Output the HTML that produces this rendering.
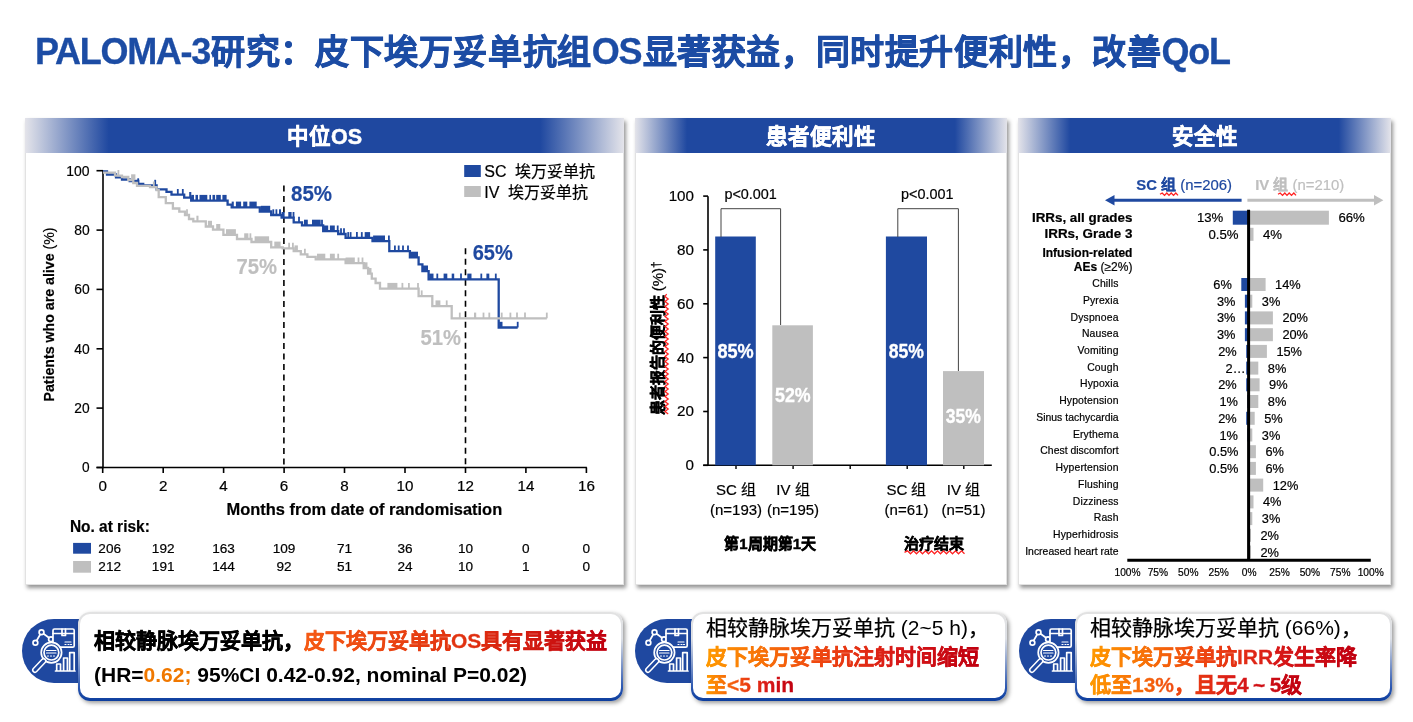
<!DOCTYPE html>
<html lang="zh-CN"><head><meta charset="utf-8">
<style>
*{margin:0;padding:0;box-sizing:border-box}
html,body{width:1413px;height:722px;overflow:hidden;background:#fff}
body{position:relative;font-family:"Liberation Sans",sans-serif;color:#000}
.a{position:absolute;white-space:nowrap}
.title{left:35px;top:32px;font-size:34px;line-height:40px;font-weight:bold;color:#1c4ca4}
.panel{position:absolute;top:118px;height:467px;background:#fff;border:1px solid #e2e2e2;border-top:0;box-shadow:2px 3px 4px rgba(0,0,0,.42)}
.ph{-webkit-text-stroke:0.5px #fff;position:absolute;left:-1px;top:0;right:-1px;height:35px;color:#fff;font-weight:bold;font-size:21.5px;line-height:39px;text-align:center;background:linear-gradient(90deg,#e4e4ea 0,#1f48a0 14%,#1f48a0 86%,#e4e4ea 100%)}
.callbox{position:absolute;top:612px;height:89px;padding:2px 2px 3px 2px;background:linear-gradient(180deg,#e2e2e2 0%,#dde0e6 30%,#2a56b0 85%,#0d3e9e 100%);border-radius:12px;box-shadow:2px 2px 4px rgba(0,0,0,.4)}
.callbox>div{width:100%;height:100%;background:#fff;border-radius:10px}
.pill{position:absolute;top:619px;height:64px;width:70px;background:#1f48a0;border-radius:32px 0 0 32px}
.ct{position:absolute;font-size:21px;line-height:28.5px;white-space:nowrap}
.b{font-weight:bold}
.k{-webkit-text-stroke:0.5px currentColor}
.kr{-webkit-text-stroke:0.25px currentColor}
.kt{-webkit-text-stroke:0.8px currentColor;letter-spacing:0.6px}
.tl{font-size:36px;letter-spacing:-1.3px;margin-right:1.3px;-webkit-text-stroke:0.3px currentColor}
.gr{-webkit-background-clip:text;background-clip:text;color:transparent;-webkit-text-stroke:0.3px transparent}
svg text{font-family:"Liberation Sans",sans-serif}
</style></head><body>
<div id="wrap" style="position:absolute;left:0;top:0;width:1413px;height:722px;background:#fff;will-change:transform">
<div class="a title"><span class="tl">PALOMA-3</span><span class="kt">研究：皮下埃万妥单抗组</span><span class="tl">OS</span><span class="kt">显著获益，同时提升便利性，改善</span><span class="tl">QoL</span></div>

<div class="panel" style="left:25px;width:599px"><div class="ph"><span class="k">中位</span>OS</div></div>
<div class="panel" style="left:635px;width:372px"><div class="ph"><span class="k">患者便利性</span></div></div>
<div class="panel" style="left:1018px;width:373px"><div class="ph"><span class="k">安全性</span></div></div>

<svg width="1413" height="722" style="position:absolute;left:0;top:0">
<line x1="103" y1="170.7" x2="103" y2="468.3" stroke="#000" stroke-width="1.6" />
<line x1="96.5" y1="467.5" x2="586.9" y2="467.5" stroke="#000" stroke-width="1.6" />
<line x1="96.5" y1="467.5" x2="103" y2="467.5" stroke="#000" stroke-width="1.6" />
<text x="89.6" y="472.4" font-size="15.2" text-anchor="end" font-weight="normal" fill="#000" textLength="7.6" lengthAdjust="spacingAndGlyphs" stroke="#000" stroke-width="0.2">0</text>
<line x1="96.5" y1="408.1" x2="103" y2="408.1" stroke="#000" stroke-width="1.6" />
<text x="89.6" y="413.0" font-size="15.2" text-anchor="end" font-weight="normal" fill="#000" textLength="15.3" lengthAdjust="spacingAndGlyphs" stroke="#000" stroke-width="0.2">20</text>
<line x1="96.5" y1="348.8" x2="103" y2="348.8" stroke="#000" stroke-width="1.6" />
<text x="89.6" y="353.7" font-size="15.2" text-anchor="end" font-weight="normal" fill="#000" textLength="15.4" lengthAdjust="spacingAndGlyphs" stroke="#000" stroke-width="0.2">40</text>
<line x1="96.5" y1="289.4" x2="103" y2="289.4" stroke="#000" stroke-width="1.6" />
<text x="89.6" y="294.29999999999995" font-size="15.2" text-anchor="end" font-weight="normal" fill="#000" textLength="15.4" lengthAdjust="spacingAndGlyphs" stroke="#000" stroke-width="0.2">60</text>
<line x1="96.5" y1="230.1" x2="103" y2="230.1" stroke="#000" stroke-width="1.6" />
<text x="89.6" y="235.0" font-size="15.2" text-anchor="end" font-weight="normal" fill="#000" textLength="15.4" lengthAdjust="spacingAndGlyphs" stroke="#000" stroke-width="0.2">80</text>
<line x1="96.5" y1="170.7" x2="103" y2="170.7" stroke="#000" stroke-width="1.6" />
<text x="89.6" y="175.6" font-size="15.2" text-anchor="end" font-weight="normal" fill="#000" textLength="23.3" lengthAdjust="spacingAndGlyphs" stroke="#000" stroke-width="0.2">100</text>
<line x1="102.7" y1="467.5" x2="102.7" y2="473" stroke="#000" stroke-width="1.6" />
<text x="102.7" y="490.6" font-size="15.2" text-anchor="middle" font-weight="normal" fill="#000"  stroke="#000" stroke-width="0.2">0</text>
<line x1="163.2" y1="467.5" x2="163.2" y2="473" stroke="#000" stroke-width="1.6" />
<text x="163.2" y="490.6" font-size="15.2" text-anchor="middle" font-weight="normal" fill="#000"  stroke="#000" stroke-width="0.2">2</text>
<line x1="223.6" y1="467.5" x2="223.6" y2="473" stroke="#000" stroke-width="1.6" />
<text x="223.6" y="490.6" font-size="15.2" text-anchor="middle" font-weight="normal" fill="#000"  stroke="#000" stroke-width="0.2">4</text>
<line x1="284.1" y1="467.5" x2="284.1" y2="473" stroke="#000" stroke-width="1.6" />
<text x="284.1" y="490.6" font-size="15.2" text-anchor="middle" font-weight="normal" fill="#000"  stroke="#000" stroke-width="0.2">6</text>
<line x1="344.5" y1="467.5" x2="344.5" y2="473" stroke="#000" stroke-width="1.6" />
<text x="344.5" y="490.6" font-size="15.2" text-anchor="middle" font-weight="normal" fill="#000"  stroke="#000" stroke-width="0.2">8</text>
<line x1="405.0" y1="467.5" x2="405.0" y2="473" stroke="#000" stroke-width="1.6" />
<text x="405.0" y="490.6" font-size="15.2" text-anchor="middle" font-weight="normal" fill="#000"  stroke="#000" stroke-width="0.2">10</text>
<line x1="465.5" y1="467.5" x2="465.5" y2="473" stroke="#000" stroke-width="1.6" />
<text x="465.5" y="490.6" font-size="15.2" text-anchor="middle" font-weight="normal" fill="#000"  stroke="#000" stroke-width="0.2">12</text>
<line x1="525.9" y1="467.5" x2="525.9" y2="473" stroke="#000" stroke-width="1.6" />
<text x="525.9" y="490.6" font-size="15.2" text-anchor="middle" font-weight="normal" fill="#000"  stroke="#000" stroke-width="0.2">14</text>
<line x1="586.4" y1="467.5" x2="586.4" y2="473" stroke="#000" stroke-width="1.6" />
<text x="586.4" y="490.6" font-size="15.2" text-anchor="middle" font-weight="normal" fill="#000"  stroke="#000" stroke-width="0.2">16</text>
<line x1="283.9" y1="185.5" x2="283.9" y2="467.5" stroke="#000" stroke-width="1.6" stroke-dasharray="6,4.5"/>
<line x1="465.5" y1="248.3" x2="465.5" y2="467.5" stroke="#000" stroke-width="1.6" stroke-dasharray="6,4.5"/>
<path d="M103,171.5H107V174.5H116V177.3H122V179.5H129.7V181H138.2V184H143.2V185.5H156.6V189.4H166.5V191.9H171.5V194.7H184.2V197.7H191.2V200.6H227.6V204.7H231.7V207.3H259.8V211.5H271.2V215H281.6V217.7H293.7V222.4H302V225.4H323.2V231.2H338.2V234H345.6V237.8H372.5V241.2H389.3V251.2H409.9V257.4H418.6V264.3H422.4V271.2H428.6V279.3H498.7V327.5H517.7" fill="none" stroke="#1f49a0" stroke-width="2.3"/>
<line x1="138.2" y1="184" x2="138.2" y2="178.3" stroke="#1f49a0" stroke-width="1.8" />
<line x1="155.2" y1="185.5" x2="155.2" y2="179.8" stroke="#1f49a0" stroke-width="1.8" />
<line x1="177.8" y1="194.7" x2="177.8" y2="189.0" stroke="#1f49a0" stroke-width="1.8" />
<line x1="182.8" y1="194.7" x2="182.8" y2="189.0" stroke="#1f49a0" stroke-width="1.8" />
<rect x="189.2" y="192.0" width="2.1" height="5.7" fill="#1f49a0"/>
<rect x="191.2" y="194.9" width="2.8" height="5.7" fill="#1f49a0"/>
<rect x="195.5" y="194.9" width="2.5" height="5.7" fill="#1f49a0"/>
<rect x="199.5" y="194.9" width="7.8" height="5.7" fill="#1f49a0"/>
<rect x="209.4" y="194.9" width="1.6" height="5.7" fill="#1f49a0"/>
<rect x="212.5" y="194.9" width="2.6" height="5.7" fill="#1f49a0"/>
<rect x="216.2" y="194.9" width="4.6" height="5.7" fill="#1f49a0"/>
<rect x="222.4" y="194.9" width="4.2" height="5.7" fill="#1f49a0"/>
<rect x="231.7" y="201.6" width="2.1" height="5.7" fill="#1f49a0"/>
<rect x="235.9" y="201.6" width="5.2" height="5.7" fill="#1f49a0"/>
<rect x="243.2" y="201.6" width="4.1" height="5.7" fill="#1f49a0"/>
<rect x="249.4" y="201.6" width="7.3" height="5.7" fill="#1f49a0"/>
<rect x="260.8" y="205.8" width="9.4" height="5.7" fill="#1f49a0"/>
<line x1="273.3" y1="215" x2="273.3" y2="209.3" stroke="#1f49a0" stroke-width="1.8" />
<line x1="276.4" y1="215" x2="276.4" y2="209.3" stroke="#1f49a0" stroke-width="1.8" />
<rect x="279" y="209.3" width="2" height="5.7" fill="#1f49a0"/>
<rect x="281.6" y="212.0" width="3.0" height="5.7" fill="#1f49a0"/>
<rect x="288.3" y="212.0" width="3.3" height="5.7" fill="#1f49a0"/>
<line x1="293.5" y1="217.7" x2="293.5" y2="212.0" stroke="#1f49a0" stroke-width="1.8" />
<line x1="299" y1="222.4" x2="299" y2="216.7" stroke="#1f49a0" stroke-width="1.8" />
<rect x="304" y="219.7" width="3.8" height="5.7" fill="#1f49a0"/>
<rect x="312" y="219.7" width="8.7" height="5.7" fill="#1f49a0"/>
<line x1="322" y1="225.4" x2="322" y2="219.7" stroke="#1f49a0" stroke-width="1.8" />
<rect x="324" y="225.5" width="4.2" height="5.7" fill="#1f49a0"/>
<rect x="329.9" y="225.5" width="4.9" height="5.7" fill="#1f49a0"/>
<line x1="337.7" y1="231.2" x2="337.7" y2="225.5" stroke="#1f49a0" stroke-width="1.8" />
<line x1="341" y1="234" x2="341" y2="228.3" stroke="#1f49a0" stroke-width="1.8" />
<line x1="344" y1="234" x2="344" y2="228.3" stroke="#1f49a0" stroke-width="1.8" />
<rect x="347.3" y="232.1" width="1.7" height="5.7" fill="#1f49a0"/>
<line x1="350.6" y1="237.8" x2="350.6" y2="232.1" stroke="#1f49a0" stroke-width="1.8" />
<line x1="356.9" y1="237.8" x2="356.9" y2="232.1" stroke="#1f49a0" stroke-width="1.8" />
<line x1="361.8" y1="237.8" x2="361.8" y2="232.1" stroke="#1f49a0" stroke-width="1.8" />
<rect x="364.7" y="232.1" width="5.4" height="5.7" fill="#1f49a0"/>
<rect x="373.1" y="235.5" width="11.9" height="5.7" fill="#1f49a0"/>
<line x1="388.9" y1="241.2" x2="388.9" y2="235.5" stroke="#1f49a0" stroke-width="1.8" />
<line x1="394.9" y1="251.2" x2="394.9" y2="245.5" stroke="#1f49a0" stroke-width="1.8" />
<line x1="398.7" y1="251.2" x2="398.7" y2="245.5" stroke="#1f49a0" stroke-width="1.8" />
<line x1="403" y1="251.2" x2="403" y2="245.5" stroke="#1f49a0" stroke-width="1.8" />
<line x1="408" y1="251.2" x2="408" y2="245.5" stroke="#1f49a0" stroke-width="1.8" />
<rect x="409.9" y="251.7" width="8.1" height="5.7" fill="#1f49a0"/>
<rect x="422.6" y="265.5" width="5.4" height="5.7" fill="#1f49a0"/>
<rect x="429.2" y="273.6" width="4.3" height="5.7" fill="#1f49a0"/>
<line x1="437.3" y1="279.3" x2="437.3" y2="273.6" stroke="#1f49a0" stroke-width="1.8" />
<rect x="443.6" y="273.6" width="3.7" height="5.7" fill="#1f49a0"/>
<rect x="451.7" y="273.6" width="2.5" height="5.7" fill="#1f49a0"/>
<line x1="461" y1="279.3" x2="461" y2="273.6" stroke="#1f49a0" stroke-width="1.8" />
<rect x="467.3" y="273.6" width="4.2" height="5.7" fill="#1f49a0"/>
<line x1="481.3" y1="279.3" x2="481.3" y2="273.6" stroke="#1f49a0" stroke-width="1.8" />
<rect x="486.4" y="273.6" width="2.9" height="5.7" fill="#1f49a0"/>
<line x1="495.8" y1="279.3" x2="495.8" y2="273.6" stroke="#1f49a0" stroke-width="1.8" />
<rect x="499.2" y="321.8" width="3.3" height="5.7" fill="#1f49a0"/>
<line x1="517.7" y1="327.5" x2="517.7" y2="321.8" stroke="#1f49a0" stroke-width="1.8" />
<path d="M103,172.6H115V175.7H122V177H128.3V180H133.3V183H137V185.8H150V187.2H156.6V190H158.7V197.2H165.8V203.2H172.9V208.5H179.3V211.7H185V215H189V219H193.3V221.4H205.8V226.5H213V229.7H223.4V234.9H237V239H251.5V242H271.2V247.3H282.7V248.4H293.7V251.1H300.8V254.4H307.4V256.9H315.7V259.4H345.6V263.2H363.7V268H368.1V273.7H371.8V278.7H375.6V283H380V288.6H418.6V296.1H432.3V306.1H451.7V318.3H546.8" fill="none" stroke="#bfbfbf" stroke-width="2.3"/>
<line x1="118.4" y1="175.7" x2="118.4" y2="170.0" stroke="#bfbfbf" stroke-width="1.8" />
<rect x="131.1" y="174.3" width="4.3" height="5.7" fill="#bfbfbf"/>
<line x1="153.8" y1="187.2" x2="153.8" y2="181.5" stroke="#bfbfbf" stroke-width="1.8" />
<line x1="187" y1="215" x2="187" y2="209.3" stroke="#bfbfbf" stroke-width="1.8" />
<rect x="196.4" y="215.7" width="2.1" height="5.7" fill="#bfbfbf"/>
<rect x="207.9" y="220.8" width="4.1" height="5.7" fill="#bfbfbf"/>
<rect x="216.2" y="224.0" width="4.1" height="5.7" fill="#bfbfbf"/>
<rect x="226" y="229.2" width="9.9" height="5.7" fill="#bfbfbf"/>
<rect x="244.2" y="233.3" width="4.2" height="5.7" fill="#bfbfbf"/>
<line x1="250.4" y1="239" x2="250.4" y2="233.3" stroke="#bfbfbf" stroke-width="1.8" />
<rect x="254.6" y="236.3" width="14.5" height="5.7" fill="#bfbfbf"/>
<rect x="274.3" y="241.6" width="6.3" height="5.7" fill="#bfbfbf"/>
<line x1="289.1" y1="248.4" x2="289.1" y2="242.7" stroke="#bfbfbf" stroke-width="1.8" />
<line x1="292.9" y1="248.4" x2="292.9" y2="242.7" stroke="#bfbfbf" stroke-width="1.8" />
<rect x="294.5" y="245.4" width="3.4" height="5.7" fill="#bfbfbf"/>
<line x1="304.9" y1="254.4" x2="304.9" y2="248.7" stroke="#bfbfbf" stroke-width="1.8" />
<rect x="317" y="253.7" width="8.3" height="5.7" fill="#bfbfbf"/>
<rect x="329.9" y="253.7" width="4.9" height="5.7" fill="#bfbfbf"/>
<line x1="338.2" y1="259.4" x2="338.2" y2="253.7" stroke="#bfbfbf" stroke-width="1.8" />
<rect x="345.6" y="257.5" width="9.2" height="5.7" fill="#bfbfbf"/>
<line x1="358.5" y1="263.2" x2="358.5" y2="257.5" stroke="#bfbfbf" stroke-width="1.8" />
<line x1="362.5" y1="263.2" x2="362.5" y2="257.5" stroke="#bfbfbf" stroke-width="1.8" />
<rect x="363.9" y="262.3" width="3.6" height="5.7" fill="#bfbfbf"/>
<rect x="368.5" y="268.0" width="3.0" height="5.7" fill="#bfbfbf"/>
<rect x="387.4" y="282.9" width="10.0" height="5.7" fill="#bfbfbf"/>
<line x1="402.4" y1="288.6" x2="402.4" y2="282.9" stroke="#bfbfbf" stroke-width="1.8" />
<line x1="408.9" y1="288.6" x2="408.9" y2="282.9" stroke="#bfbfbf" stroke-width="1.8" />
<line x1="418" y1="288.6" x2="418" y2="282.9" stroke="#bfbfbf" stroke-width="1.8" />
<line x1="421.7" y1="296.1" x2="421.7" y2="290.4" stroke="#bfbfbf" stroke-width="1.8" />
<rect x="435.5" y="300.4" width="4.9" height="5.7" fill="#bfbfbf"/>
<line x1="446.7" y1="306.1" x2="446.7" y2="300.4" stroke="#bfbfbf" stroke-width="1.8" />
<line x1="459.8" y1="318.3" x2="459.8" y2="312.6" stroke="#bfbfbf" stroke-width="1.8" />
<rect x="474" y="312.6" width="2.2" height="5.7" fill="#bfbfbf"/>
<line x1="483.5" y1="318.3" x2="483.5" y2="312.6" stroke="#bfbfbf" stroke-width="1.8" />
<line x1="489.3" y1="318.3" x2="489.3" y2="312.6" stroke="#bfbfbf" stroke-width="1.8" />
<line x1="501.7" y1="318.3" x2="501.7" y2="312.6" stroke="#bfbfbf" stroke-width="1.8" />
<line x1="510.4" y1="318.3" x2="510.4" y2="312.6" stroke="#bfbfbf" stroke-width="1.8" />
<line x1="517" y1="318.3" x2="517" y2="312.6" stroke="#bfbfbf" stroke-width="1.8" />
<line x1="525" y1="318.3" x2="525" y2="312.6" stroke="#bfbfbf" stroke-width="1.8" />
<line x1="546.8" y1="318.3" x2="546.8" y2="312.6" stroke="#bfbfbf" stroke-width="1.8" />
<text x="291" y="200.6" font-size="22.6" text-anchor="start" font-weight="bold" fill="#1f49a0" textLength="41" lengthAdjust="spacingAndGlyphs" stroke="#1f49a0" stroke-width="0.2">85%</text>
<text x="472.7" y="259.5" font-size="22.6" text-anchor="start" font-weight="bold" fill="#1f49a0" textLength="40" lengthAdjust="spacingAndGlyphs" stroke="#1f49a0" stroke-width="0.2">65%</text>
<text x="236.6" y="274" font-size="22.6" text-anchor="start" font-weight="bold" fill="#bfbfbf" textLength="40.5" lengthAdjust="spacingAndGlyphs" stroke="#bfbfbf" stroke-width="0.2">75%</text>
<text x="420.5" y="345" font-size="22.6" text-anchor="start" font-weight="bold" fill="#bfbfbf" textLength="40.5" lengthAdjust="spacingAndGlyphs" stroke="#bfbfbf" stroke-width="0.2">51%</text>
<rect x="464.2" y="165" width="16.6" height="12" fill="#1f49a0"/>
<rect x="464.2" y="186" width="16.6" height="11" fill="#bfbfbf"/>
<text x="484.3" y="177.2" font-size="16" text-anchor="start" font-weight="normal" fill="#000"  stroke="#000" stroke-width="0.2">SC  埃万妥单抗</text>
<text x="484.3" y="197.6" font-size="16" text-anchor="start" font-weight="normal" fill="#000"  stroke="#000" stroke-width="0.2">IV  埃万妥单抗</text>
<text x="226.6" y="515.1" font-size="16.6" text-anchor="start" font-weight="bold" fill="#000" textLength="275.6" lengthAdjust="spacingAndGlyphs" stroke="#000" stroke-width="0.2">Months from date of randomisation</text>
<text transform="translate(53.6,314.5) rotate(-90)" font-size="15" text-anchor="middle" stroke="#000" stroke-width="0.2" textLength="174" lengthAdjust="spacingAndGlyphs"><tspan font-weight="bold">Patients who are alive </tspan>(%)</text>
<text x="69.9" y="532.3" font-size="16.2" text-anchor="start" font-weight="bold" fill="#000" textLength="79.9" lengthAdjust="spacingAndGlyphs" stroke="#000" stroke-width="0.2">No. at risk:</text>
<rect x="73.1" y="542.9" width="17.9" height="10.8" fill="#1f49a0"/>
<rect x="73.1" y="561" width="17.9" height="11.7" fill="#bfbfbf"/>
<text x="109.7" y="552.7" font-size="13.6" text-anchor="middle" font-weight="normal" fill="#000"  stroke="#000" stroke-width="0.2">206</text>
<text x="109.7" y="570.7" font-size="13.6" text-anchor="middle" font-weight="normal" fill="#000"  stroke="#000" stroke-width="0.2">212</text>
<text x="163.2" y="552.7" font-size="13.6" text-anchor="middle" font-weight="normal" fill="#000"  stroke="#000" stroke-width="0.2">192</text>
<text x="163.2" y="570.7" font-size="13.6" text-anchor="middle" font-weight="normal" fill="#000"  stroke="#000" stroke-width="0.2">191</text>
<text x="223.6" y="552.7" font-size="13.6" text-anchor="middle" font-weight="normal" fill="#000"  stroke="#000" stroke-width="0.2">163</text>
<text x="223.6" y="570.7" font-size="13.6" text-anchor="middle" font-weight="normal" fill="#000"  stroke="#000" stroke-width="0.2">144</text>
<text x="284.1" y="552.7" font-size="13.6" text-anchor="middle" font-weight="normal" fill="#000"  stroke="#000" stroke-width="0.2">109</text>
<text x="284.1" y="570.7" font-size="13.6" text-anchor="middle" font-weight="normal" fill="#000"  stroke="#000" stroke-width="0.2">92</text>
<text x="344.5" y="552.7" font-size="13.6" text-anchor="middle" font-weight="normal" fill="#000"  stroke="#000" stroke-width="0.2">71</text>
<text x="344.5" y="570.7" font-size="13.6" text-anchor="middle" font-weight="normal" fill="#000"  stroke="#000" stroke-width="0.2">51</text>
<text x="405.0" y="552.7" font-size="13.6" text-anchor="middle" font-weight="normal" fill="#000"  stroke="#000" stroke-width="0.2">36</text>
<text x="405.0" y="570.7" font-size="13.6" text-anchor="middle" font-weight="normal" fill="#000"  stroke="#000" stroke-width="0.2">24</text>
<text x="465.5" y="552.7" font-size="13.6" text-anchor="middle" font-weight="normal" fill="#000"  stroke="#000" stroke-width="0.2">10</text>
<text x="465.5" y="570.7" font-size="13.6" text-anchor="middle" font-weight="normal" fill="#000"  stroke="#000" stroke-width="0.2">10</text>
<text x="525.9" y="552.7" font-size="13.6" text-anchor="middle" font-weight="normal" fill="#000"  stroke="#000" stroke-width="0.2">0</text>
<text x="525.9" y="570.7" font-size="13.6" text-anchor="middle" font-weight="normal" fill="#000"  stroke="#000" stroke-width="0.2">1</text>
<text x="586.4" y="552.7" font-size="13.6" text-anchor="middle" font-weight="normal" fill="#000"  stroke="#000" stroke-width="0.2">0</text>
<text x="586.4" y="570.7" font-size="13.6" text-anchor="middle" font-weight="normal" fill="#000"  stroke="#000" stroke-width="0.2">0</text>
<line x1="708" y1="196.3" x2="708" y2="466" stroke="#000" stroke-width="1.6" />
<line x1="703.2" y1="465.3" x2="991.8" y2="465.3" stroke="#000" stroke-width="1.6" />
<line x1="703.2" y1="465.3" x2="708" y2="465.3" stroke="#000" stroke-width="1.6" />
<text x="694" y="470.2" font-size="15.2" text-anchor="end" font-weight="normal" fill="#000"  stroke="#000" stroke-width="0.2">0</text>
<line x1="703.2" y1="411.5" x2="708" y2="411.5" stroke="#000" stroke-width="1.6" />
<text x="694" y="416.4" font-size="15.2" text-anchor="end" font-weight="normal" fill="#000"  stroke="#000" stroke-width="0.2">20</text>
<line x1="703.2" y1="357.6" x2="708" y2="357.6" stroke="#000" stroke-width="1.6" />
<text x="694" y="362.5" font-size="15.2" text-anchor="end" font-weight="normal" fill="#000"  stroke="#000" stroke-width="0.2">40</text>
<line x1="703.2" y1="303.8" x2="708" y2="303.8" stroke="#000" stroke-width="1.6" />
<text x="694" y="308.7" font-size="15.2" text-anchor="end" font-weight="normal" fill="#000"  stroke="#000" stroke-width="0.2">60</text>
<line x1="703.2" y1="249.9" x2="708" y2="249.9" stroke="#000" stroke-width="1.6" />
<text x="694" y="254.8" font-size="15.2" text-anchor="end" font-weight="normal" fill="#000"  stroke="#000" stroke-width="0.2">80</text>
<line x1="703.2" y1="196.1" x2="708" y2="196.1" stroke="#000" stroke-width="1.6" />
<text x="694" y="201.0" font-size="15.2" text-anchor="end" font-weight="normal" fill="#000"  stroke="#000" stroke-width="0.2">100</text>
<line x1="736" y1="465.3" x2="736" y2="469" stroke="#000" stroke-width="1.4" />
<line x1="793.1" y1="465.3" x2="793.1" y2="469" stroke="#000" stroke-width="1.4" />
<line x1="850.2" y1="465.3" x2="850.2" y2="469" stroke="#000" stroke-width="1.4" />
<line x1="907.2" y1="465.3" x2="907.2" y2="469" stroke="#000" stroke-width="1.4" />
<line x1="963.8" y1="465.3" x2="963.8" y2="469" stroke="#000" stroke-width="1.4" />
<rect x="715.2" y="236.5" width="40.6" height="228.8" fill="#1f49a0"/>
<rect x="772.3" y="325.3" width="40.6" height="140.0" fill="#bfbfbf"/>
<rect x="885.9" y="236.5" width="41.1" height="228.8" fill="#1f49a0"/>
<rect x="943" y="371.1" width="41" height="94.2" fill="#bfbfbf"/>
<path d="M721,237 V208.7 H780.6 V325" fill="none" stroke="#444" stroke-width="1"/>
<path d="M897.8,237 V208.7 H958.4 V371" fill="none" stroke="#444" stroke-width="1"/>
<text x="750.6" y="198.8" font-size="14.4" text-anchor="middle" font-weight="normal" fill="#000"  stroke="#000" stroke-width="0.2">p&lt;0.001</text>
<text x="927.3" y="198.8" font-size="14.4" text-anchor="middle" font-weight="normal" fill="#000"  stroke="#000" stroke-width="0.2">p&lt;0.001</text>
<text x="735.6" y="357.5" font-size="19.6" text-anchor="middle" font-weight="bold" fill="#fff" stroke="#fff" stroke-width="0.35" textLength="36.3" lengthAdjust="spacingAndGlyphs">85%</text>
<text x="906.4" y="357.5" font-size="19.6" text-anchor="middle" font-weight="bold" fill="#fff" stroke="#fff" stroke-width="0.35" textLength="35.2" lengthAdjust="spacingAndGlyphs">85%</text>
<text x="792.8" y="402.2" font-size="19.6" text-anchor="middle" font-weight="bold" fill="#fff" stroke="#fff" stroke-width="0.35" textLength="35.6" lengthAdjust="spacingAndGlyphs">52%</text>
<text x="963.3" y="422.6" font-size="19.6" text-anchor="middle" font-weight="bold" fill="#fff" stroke="#fff" stroke-width="0.35" textLength="35" lengthAdjust="spacingAndGlyphs">35%</text>
<text x="736" y="495.1" font-size="15" text-anchor="middle" font-weight="normal" fill="#000"  stroke="#000" stroke-width="0.2">SC 组</text>
<text x="736" y="515" font-size="15" text-anchor="middle" font-weight="normal" fill="#000"  stroke="#000" stroke-width="0.2">(n=193)</text>
<text x="793" y="495.1" font-size="15" text-anchor="middle" font-weight="normal" fill="#000"  stroke="#000" stroke-width="0.2">IV 组</text>
<text x="793" y="515" font-size="15" text-anchor="middle" font-weight="normal" fill="#000"  stroke="#000" stroke-width="0.2">(n=195)</text>
<text x="906.5" y="495.1" font-size="15" text-anchor="middle" font-weight="normal" fill="#000"  stroke="#000" stroke-width="0.2">SC 组</text>
<text x="906.5" y="515" font-size="15" text-anchor="middle" font-weight="normal" fill="#000"  stroke="#000" stroke-width="0.2">(n=61)</text>
<text x="963.5" y="495.1" font-size="15" text-anchor="middle" font-weight="normal" fill="#000"  stroke="#000" stroke-width="0.2">IV 组</text>
<text x="963.5" y="515" font-size="15" text-anchor="middle" font-weight="normal" fill="#000"  stroke="#000" stroke-width="0.2">(n=51)</text>
<text x="770.2" y="548.5" font-size="15" text-anchor="middle" font-weight="bold" fill="#000" stroke="#000" stroke-width="0.45">第1周期第1天</text>
<text x="934.1" y="548.5" font-size="15" text-anchor="middle" font-weight="bold" fill="#000" stroke="#000" stroke-width="0.45">治疗结束</text>
<path d="M904.5,552.3 L907.5,550.8 L910.5,553.8 L913.5,550.8 L916.5,553.8 L919.5,550.8 L922.5,553.8 L925.5,550.8 L928.5,553.8 L931.5,550.8 L934.5,553.8 L937.5,550.8 L940.5,553.8 L943.5,550.8 L946.5,553.8 L949.5,550.8 L952.5,553.8 L955.5,550.8 L958.5,553.8 L961.5,550.8 L964.5,553.8" fill="none" stroke="#ff2020" stroke-width="1.3"/>
<text transform="translate(663.2,338.3) rotate(-90)" font-size="15" text-anchor="middle" stroke="#000" stroke-width="0.2"><tspan font-weight="bold" stroke="#000" stroke-width="0.45">患者报告的便利性</tspan> (%)<tspan font-size="12" dy="-3.5">†</tspan></text>
<path d="M666.6,294 L665.0,296.5 L668.2,299.0 L665.0,301.5 L668.2,304.0 L665.0,306.5 L668.2,309.0 L665.0,311.5 L668.2,314.0 L665.0,316.5 L668.2,319.0 L665.0,321.5 L668.2,324.0 L665.0,326.5 L668.2,329.0 L665.0,331.5 L668.2,334.0 L665.0,336.5 L668.2,339.0 L665.0,341.5 L668.2,344.0 L665.0,346.5 L668.2,349.0 L665.0,351.5 L668.2,354.0 L665.0,356.5 L668.2,359.0 L665.0,361.5 L668.2,364.0 L665.0,366.5 L668.2,369.0 L665.0,371.5 L668.2,374.0 L665.0,376.5 L668.2,379.0 L665.0,381.5 L668.2,384.0 L665.0,386.5 L668.2,389.0 L665.0,391.5 L668.2,394.0 L665.0,396.5 L668.2,399.0 L665.0,401.5 L668.2,404.0 L665.0,406.5 L668.2,409.0 L665.0,411.5 L668.2,414.0" fill="none" stroke="#ff2020" stroke-width="1.3"/>
<line x1="1112" y1="200.2" x2="1241.6" y2="200.2" stroke="#1f49a0" stroke-width="3" />
<path d="M1105,200.2 L1114.5,195 L1114.5,205.4 Z" fill="#1f49a0"/>
<line x1="1247.4" y1="200.2" x2="1375" y2="200.2" stroke="#bfbfbf" stroke-width="3" />
<path d="M1383.4,200.2 L1374,195 L1374,205.4 Z" fill="#bfbfbf"/>
<text x="1136.3" y="189.5" font-size="14.9" fill="#1f49a0" stroke="#1f49a0" stroke-width="0.2"><tspan font-weight="bold">SC 组</tspan> (n=206)</text>
<text x="1255.2" y="189.5" font-size="14.9" fill="#bfbfbf" stroke="#bfbfbf" stroke-width="0.2"><tspan font-weight="bold">IV 组</tspan> (n=210)</text>
<path d="M1160,194.2 L1162.2,193.0 L1164.5,195.4 L1166.8,193.0 L1169.0,195.4 L1171.2,193.0 L1173.5,195.4 L1175.8,193.0 L1178.0,195.4" fill="none" stroke="#ff2020" stroke-width="1.3"/>
<path d="M1278,194.2 L1280.2,193.0 L1282.5,195.4 L1284.8,193.0 L1287.0,195.4 L1289.2,193.0 L1291.5,195.4 L1293.8,193.0 L1296.0,195.4" fill="none" stroke="#ff2020" stroke-width="1.3"/>
<rect x="1232.8" y="210.7" width="15.8" height="14" fill="#1f49a0"/>
<rect x="1248.6" y="210.7" width="80.3" height="14" fill="#bfbfbf"/>
<text x="1223.3" y="222.2" font-size="13.2" text-anchor="end" font-weight="normal" fill="#000"  stroke="#000" stroke-width="0.2">13%</text>
<text x="1338.4" y="222.2" font-size="13.2" text-anchor="start" font-weight="normal" fill="#000"  stroke="#000" stroke-width="0.2">66%</text>
<rect x="1248.0" y="227.8" width="0.6" height="13" fill="#1f49a0"/>
<rect x="1248.6" y="227.8" width="4.9" height="13" fill="#bfbfbf"/>
<text x="1238.5" y="238.8" font-size="13.2" text-anchor="end" font-weight="normal" fill="#000"  stroke="#000" stroke-width="0.2">0.5%</text>
<text x="1263.0" y="238.8" font-size="13.2" text-anchor="start" font-weight="normal" fill="#000"  stroke="#000" stroke-width="0.2">4%</text>
<text x="1132.4" y="221.9" font-size="13.4" text-anchor="end" font-weight="bold" fill="#000"  stroke="#000" stroke-width="0.2">IRRs, all grades</text>
<text x="1132.4" y="237.9" font-size="13.4" text-anchor="end" font-weight="bold" fill="#000"  stroke="#000" stroke-width="0.2">IRRs, Grade 3</text>
<text x="1132.4" y="256.8" font-size="12" text-anchor="end" font-weight="bold" fill="#000"  stroke="#000" stroke-width="0.2">Infusion-related</text>
<text x="1132.4" y="270.6" font-size="12" text-anchor="end" stroke="#000" stroke-width="0.2"><tspan font-weight="bold">AEs</tspan> (≥2%)</text>
<rect x="1241.3" y="278.0" width="7.3" height="13" fill="#1f49a0"/>
<rect x="1248.6" y="278.0" width="17.0" height="13" fill="#bfbfbf"/>
<text x="1231.8" y="289.0" font-size="12.8" text-anchor="end" font-weight="normal" fill="#000"  stroke="#000" stroke-width="0.2">6%</text>
<text x="1275.1" y="289.0" font-size="12.8" text-anchor="start" font-weight="normal" fill="#000"  stroke="#000" stroke-width="0.2">14%</text>
<text x="1118.6" y="287.1" font-size="10.4" text-anchor="end" font-weight="normal" fill="#000" letter-spacing="0.15" stroke="#000" stroke-width="0.2">Chills</text>
<rect x="1244.9" y="294.7" width="3.7" height="13" fill="#1f49a0"/>
<rect x="1248.6" y="294.7" width="3.7" height="13" fill="#bfbfbf"/>
<text x="1235.4" y="305.7" font-size="12.8" text-anchor="end" font-weight="normal" fill="#000"  stroke="#000" stroke-width="0.2">3%</text>
<text x="1261.8" y="305.7" font-size="12.8" text-anchor="start" font-weight="normal" fill="#000"  stroke="#000" stroke-width="0.2">3%</text>
<text x="1118.6" y="303.8" font-size="10.4" text-anchor="end" font-weight="normal" fill="#000" letter-spacing="0.15" stroke="#000" stroke-width="0.2">Pyrexia</text>
<rect x="1244.9" y="311.4" width="3.7" height="13" fill="#1f49a0"/>
<rect x="1248.6" y="311.4" width="24.3" height="13" fill="#bfbfbf"/>
<text x="1235.4" y="322.4" font-size="12.8" text-anchor="end" font-weight="normal" fill="#000"  stroke="#000" stroke-width="0.2">3%</text>
<text x="1282.4" y="322.4" font-size="12.8" text-anchor="start" font-weight="normal" fill="#000"  stroke="#000" stroke-width="0.2">20%</text>
<text x="1118.6" y="320.5" font-size="10.4" text-anchor="end" font-weight="normal" fill="#000" letter-spacing="0.15" stroke="#000" stroke-width="0.2">Dyspnoea</text>
<rect x="1244.9" y="328.2" width="3.7" height="13" fill="#1f49a0"/>
<rect x="1248.6" y="328.2" width="24.3" height="13" fill="#bfbfbf"/>
<text x="1235.4" y="339.2" font-size="12.8" text-anchor="end" font-weight="normal" fill="#000"  stroke="#000" stroke-width="0.2">3%</text>
<text x="1282.4" y="339.2" font-size="12.8" text-anchor="start" font-weight="normal" fill="#000"  stroke="#000" stroke-width="0.2">20%</text>
<text x="1118.6" y="337.3" font-size="10.4" text-anchor="end" font-weight="normal" fill="#000" letter-spacing="0.15" stroke="#000" stroke-width="0.2">Nausea</text>
<rect x="1246.2" y="344.9" width="2.4" height="13" fill="#1f49a0"/>
<rect x="1248.6" y="344.9" width="18.3" height="13" fill="#bfbfbf"/>
<text x="1236.7" y="355.9" font-size="12.8" text-anchor="end" font-weight="normal" fill="#000"  stroke="#000" stroke-width="0.2">2%</text>
<text x="1276.4" y="355.9" font-size="12.8" text-anchor="start" font-weight="normal" fill="#000"  stroke="#000" stroke-width="0.2">15%</text>
<text x="1118.6" y="354.0" font-size="10.4" text-anchor="end" font-weight="normal" fill="#000" letter-spacing="0.15" stroke="#000" stroke-width="0.2">Vomiting</text>
<rect x="1246.2" y="361.6" width="2.4" height="13" fill="#1f49a0"/>
<rect x="1248.6" y="361.6" width="9.7" height="13" fill="#bfbfbf"/>
<text x="1245.5" y="372.6" font-size="12.8" text-anchor="end" font-weight="normal" fill="#000"  stroke="#000" stroke-width="0.2">2…</text>
<text x="1267.8" y="372.6" font-size="12.8" text-anchor="start" font-weight="normal" fill="#000"  stroke="#000" stroke-width="0.2">8%</text>
<text x="1118.6" y="370.7" font-size="10.4" text-anchor="end" font-weight="normal" fill="#000" letter-spacing="0.15" stroke="#000" stroke-width="0.2">Cough</text>
<rect x="1246.2" y="378.3" width="2.4" height="13" fill="#1f49a0"/>
<rect x="1248.6" y="378.3" width="11.0" height="13" fill="#bfbfbf"/>
<text x="1236.7" y="389.3" font-size="12.8" text-anchor="end" font-weight="normal" fill="#000"  stroke="#000" stroke-width="0.2">2%</text>
<text x="1269.1" y="389.3" font-size="12.8" text-anchor="start" font-weight="normal" fill="#000"  stroke="#000" stroke-width="0.2">9%</text>
<text x="1118.6" y="387.4" font-size="10.4" text-anchor="end" font-weight="normal" fill="#000" letter-spacing="0.15" stroke="#000" stroke-width="0.2">Hypoxia</text>
<rect x="1247.4" y="395.0" width="1.2" height="13" fill="#1f49a0"/>
<rect x="1248.6" y="395.0" width="9.7" height="13" fill="#bfbfbf"/>
<text x="1237.9" y="406.0" font-size="12.8" text-anchor="end" font-weight="normal" fill="#000"  stroke="#000" stroke-width="0.2">1%</text>
<text x="1267.8" y="406.0" font-size="12.8" text-anchor="start" font-weight="normal" fill="#000"  stroke="#000" stroke-width="0.2">8%</text>
<text x="1118.6" y="404.1" font-size="10.4" text-anchor="end" font-weight="normal" fill="#000" letter-spacing="0.15" stroke="#000" stroke-width="0.2">Hypotension</text>
<rect x="1246.2" y="411.8" width="2.4" height="13" fill="#1f49a0"/>
<rect x="1248.6" y="411.8" width="6.1" height="13" fill="#bfbfbf"/>
<text x="1236.7" y="422.8" font-size="12.8" text-anchor="end" font-weight="normal" fill="#000"  stroke="#000" stroke-width="0.2">2%</text>
<text x="1264.2" y="422.8" font-size="12.8" text-anchor="start" font-weight="normal" fill="#000"  stroke="#000" stroke-width="0.2">5%</text>
<text x="1118.6" y="420.9" font-size="10.4" text-anchor="end" font-weight="normal" fill="#000" letter-spacing="0.02" stroke="#000" stroke-width="0.2">Sinus tachycardia</text>
<rect x="1247.4" y="428.5" width="1.2" height="13" fill="#1f49a0"/>
<rect x="1248.6" y="428.5" width="3.7" height="13" fill="#bfbfbf"/>
<text x="1237.9" y="439.5" font-size="12.8" text-anchor="end" font-weight="normal" fill="#000"  stroke="#000" stroke-width="0.2">1%</text>
<text x="1261.8" y="439.5" font-size="12.8" text-anchor="start" font-weight="normal" fill="#000"  stroke="#000" stroke-width="0.2">3%</text>
<text x="1118.6" y="437.6" font-size="10.4" text-anchor="end" font-weight="normal" fill="#000" letter-spacing="0.15" stroke="#000" stroke-width="0.2">Erythema</text>
<rect x="1248.0" y="445.2" width="0.6" height="13" fill="#1f49a0"/>
<rect x="1248.6" y="445.2" width="7.3" height="13" fill="#bfbfbf"/>
<text x="1238.5" y="456.2" font-size="12.8" text-anchor="end" font-weight="normal" fill="#000"  stroke="#000" stroke-width="0.2">0.5%</text>
<text x="1265.4" y="456.2" font-size="12.8" text-anchor="start" font-weight="normal" fill="#000"  stroke="#000" stroke-width="0.2">6%</text>
<text x="1118.6" y="454.3" font-size="10.4" text-anchor="end" font-weight="normal" fill="#000" letter-spacing="0.02" stroke="#000" stroke-width="0.2">Chest discomfort</text>
<rect x="1248.0" y="461.9" width="0.6" height="13" fill="#1f49a0"/>
<rect x="1248.6" y="461.9" width="7.3" height="13" fill="#bfbfbf"/>
<text x="1238.5" y="472.9" font-size="12.8" text-anchor="end" font-weight="normal" fill="#000"  stroke="#000" stroke-width="0.2">0.5%</text>
<text x="1265.4" y="472.9" font-size="12.8" text-anchor="start" font-weight="normal" fill="#000"  stroke="#000" stroke-width="0.2">6%</text>
<text x="1118.6" y="471.0" font-size="10.4" text-anchor="end" font-weight="normal" fill="#000" letter-spacing="0.15" stroke="#000" stroke-width="0.2">Hypertension</text>
<rect x="1248.6" y="478.6" width="14.6" height="13" fill="#bfbfbf"/>
<text x="1272.7" y="489.6" font-size="12.8" text-anchor="start" font-weight="normal" fill="#000"  stroke="#000" stroke-width="0.2">12%</text>
<text x="1118.6" y="487.7" font-size="10.4" text-anchor="end" font-weight="normal" fill="#000" letter-spacing="0.15" stroke="#000" stroke-width="0.2">Flushing</text>
<rect x="1248.6" y="495.4" width="4.9" height="13" fill="#bfbfbf"/>
<text x="1263.0" y="506.4" font-size="12.8" text-anchor="start" font-weight="normal" fill="#000"  stroke="#000" stroke-width="0.2">4%</text>
<text x="1118.6" y="504.5" font-size="10.4" text-anchor="end" font-weight="normal" fill="#000" letter-spacing="0.15" stroke="#000" stroke-width="0.2">Dizziness</text>
<rect x="1248.6" y="512.1" width="3.7" height="13" fill="#bfbfbf"/>
<text x="1261.8" y="523.1" font-size="12.8" text-anchor="start" font-weight="normal" fill="#000"  stroke="#000" stroke-width="0.2">3%</text>
<text x="1118.6" y="521.2" font-size="10.4" text-anchor="end" font-weight="normal" fill="#000" letter-spacing="0.15" stroke="#000" stroke-width="0.2">Rash</text>
<rect x="1248.6" y="528.8" width="2.4" height="13" fill="#bfbfbf"/>
<text x="1260.5" y="539.8" font-size="12.8" text-anchor="start" font-weight="normal" fill="#000"  stroke="#000" stroke-width="0.2">2%</text>
<text x="1118.6" y="537.9" font-size="10.4" text-anchor="end" font-weight="normal" fill="#000" letter-spacing="0.15" stroke="#000" stroke-width="0.2">Hyperhidrosis</text>
<rect x="1248.6" y="545.5" width="2.4" height="13" fill="#bfbfbf"/>
<text x="1260.5" y="556.5" font-size="12.8" text-anchor="start" font-weight="normal" fill="#000"  stroke="#000" stroke-width="0.2">2%</text>
<text x="1118.6" y="554.6" font-size="10.4" text-anchor="end" font-weight="normal" fill="#000" letter-spacing="0.02" stroke="#000" stroke-width="0.2">Increased heart rate</text>
<line x1="1248.6" y1="209.8" x2="1248.6" y2="561" stroke="#000" stroke-width="3" />
<line x1="1127.3" y1="560.3" x2="1370.8" y2="560.3" stroke="#000" stroke-width="3" />
<text x="1127.5" y="575.8" font-size="10.2" text-anchor="middle" font-weight="normal" fill="#000"  stroke="#000" stroke-width="0.2">100%</text>
<text x="1157.9" y="575.8" font-size="10.2" text-anchor="middle" font-weight="normal" fill="#000"  stroke="#000" stroke-width="0.2">75%</text>
<text x="1188.3" y="575.8" font-size="10.2" text-anchor="middle" font-weight="normal" fill="#000"  stroke="#000" stroke-width="0.2">50%</text>
<text x="1218.7" y="575.8" font-size="10.2" text-anchor="middle" font-weight="normal" fill="#000"  stroke="#000" stroke-width="0.2">25%</text>
<text x="1249.1" y="575.8" font-size="10.2" text-anchor="middle" font-weight="normal" fill="#000"  stroke="#000" stroke-width="0.2">0%</text>
<text x="1279.5" y="575.8" font-size="10.2" text-anchor="middle" font-weight="normal" fill="#000"  stroke="#000" stroke-width="0.2">25%</text>
<text x="1309.9" y="575.8" font-size="10.2" text-anchor="middle" font-weight="normal" fill="#000"  stroke="#000" stroke-width="0.2">50%</text>
<text x="1340.3" y="575.8" font-size="10.2" text-anchor="middle" font-weight="normal" fill="#000"  stroke="#000" stroke-width="0.2">75%</text>
<text x="1370.7" y="575.8" font-size="10.2" text-anchor="middle" font-weight="normal" fill="#000"  stroke="#000" stroke-width="0.2">100%</text>
</svg>

<div class="pill" style="left:22px"><svg width="60" height="64" viewBox="0 0 60 64" style="position:absolute;left:0;top:0">
<g fill="none" stroke="#fff" stroke-width="1.7" stroke-linecap="round" stroke-linejoin="round">
<path d="M13.4,23.7 L19.5,13.3 L29,20.3"/>
<circle cx="13.4" cy="23.7" r="2.4" fill="#1f48a0"/><circle cx="19.5" cy="13.3" r="2.4" fill="#1f48a0"/><circle cx="29" cy="20.3" r="2.4" fill="#1f48a0"/>
<rect x="31" y="10" width="21.2" height="18.2" rx="1.5" fill="#1f48a0"/>
<path d="M31,14.5 H52.2 M40,10 V16.5 H43.5 V10"/>
<path d="M43,23 H49 M43,25.5 H44 M46,25.5 H47 M48.5,25.5 H49.5" stroke-width="1.2"/>
<circle cx="29.4" cy="33.6" r="10.2" fill="#1f48a0"/>
<circle cx="29.4" cy="33.6" r="7.4"/>
<path d="M24.5,31.5 H34 M24.5,34 H34 M25.5,37 H26.5 M28.5,37 H29.5 M31.5,37 H32.5" stroke-width="1.2"/>
<path d="M21.5,42 L13,51" stroke-width="6"/>
<path d="M21.5,42 L13,51" stroke="#1f48a0" stroke-width="3"/>
<path d="M34.7,52 V45 H38.5 V52 M41.6,52 V39 H45.4 V52 M47.7,52 V33.6 H52.2 V52 M33.5,52 H53"/>
</g></svg></div>
<div class="callbox" style="left:78px;width:545px"><div></div></div>
<div class="ct b" style="left:94px;top:627px"><span class="k">相较静脉埃万妥单抗，</span><span class="gr" style="background-image:linear-gradient(90deg,#f55a14,#e03010 55%,#c00010)"><span class="k">皮下埃万妥单抗</span>OS<span class="k">具有显著获益</span></span></div>
<div class="ct b" style="left:94px;top:661px">(HR=<span style="color:#f07800">0.62;</span> 95%CI 0.42-0.92, nominal P=0.02)</div>

<div class="pill" style="left:635px"><svg width="60" height="64" viewBox="0 0 60 64" style="position:absolute;left:0;top:0">
<g fill="none" stroke="#fff" stroke-width="1.7" stroke-linecap="round" stroke-linejoin="round">
<path d="M13.4,23.7 L19.5,13.3 L29,20.3"/>
<circle cx="13.4" cy="23.7" r="2.4" fill="#1f48a0"/><circle cx="19.5" cy="13.3" r="2.4" fill="#1f48a0"/><circle cx="29" cy="20.3" r="2.4" fill="#1f48a0"/>
<rect x="31" y="10" width="21.2" height="18.2" rx="1.5" fill="#1f48a0"/>
<path d="M31,14.5 H52.2 M40,10 V16.5 H43.5 V10"/>
<path d="M43,23 H49 M43,25.5 H44 M46,25.5 H47 M48.5,25.5 H49.5" stroke-width="1.2"/>
<circle cx="29.4" cy="33.6" r="10.2" fill="#1f48a0"/>
<circle cx="29.4" cy="33.6" r="7.4"/>
<path d="M24.5,31.5 H34 M24.5,34 H34 M25.5,37 H26.5 M28.5,37 H29.5 M31.5,37 H32.5" stroke-width="1.2"/>
<path d="M21.5,42 L13,51" stroke-width="6"/>
<path d="M21.5,42 L13,51" stroke="#1f48a0" stroke-width="3"/>
<path d="M34.7,52 V45 H38.5 V52 M41.6,52 V39 H45.4 V52 M47.7,52 V33.6 H52.2 V52 M33.5,52 H53"/>
</g></svg></div>
<div class="callbox" style="left:691px;width:316px"><div></div></div>
<div class="ct" style="left:706px;top:614px"><span class="kr">相较静脉埃万妥单抗</span> (2~5 h)<span class="kr">，</span><br><span class="b gr" style="background-image:linear-gradient(90deg,#ff9a00,#f04a10 40%,#d81818 70%,#c00010)"><span class="k">皮下埃万妥单抗注射时间缩短</span></span><br><span class="b gr" style="background-image:linear-gradient(90deg,#ff9a00,#f04a10 40%,#d81818 70%,#c00010)"><span class="k">至</span>&lt;5 min</span></div>

<div class="pill" style="left:1019px"><svg width="60" height="64" viewBox="0 0 60 64" style="position:absolute;left:0;top:0">
<g fill="none" stroke="#fff" stroke-width="1.7" stroke-linecap="round" stroke-linejoin="round">
<path d="M13.4,23.7 L19.5,13.3 L29,20.3"/>
<circle cx="13.4" cy="23.7" r="2.4" fill="#1f48a0"/><circle cx="19.5" cy="13.3" r="2.4" fill="#1f48a0"/><circle cx="29" cy="20.3" r="2.4" fill="#1f48a0"/>
<rect x="31" y="10" width="21.2" height="18.2" rx="1.5" fill="#1f48a0"/>
<path d="M31,14.5 H52.2 M40,10 V16.5 H43.5 V10"/>
<path d="M43,23 H49 M43,25.5 H44 M46,25.5 H47 M48.5,25.5 H49.5" stroke-width="1.2"/>
<circle cx="29.4" cy="33.6" r="10.2" fill="#1f48a0"/>
<circle cx="29.4" cy="33.6" r="7.4"/>
<path d="M24.5,31.5 H34 M24.5,34 H34 M25.5,37 H26.5 M28.5,37 H29.5 M31.5,37 H32.5" stroke-width="1.2"/>
<path d="M21.5,42 L13,51" stroke-width="6"/>
<path d="M21.5,42 L13,51" stroke="#1f48a0" stroke-width="3"/>
<path d="M34.7,52 V45 H38.5 V52 M41.6,52 V39 H45.4 V52 M47.7,52 V33.6 H52.2 V52 M33.5,52 H53"/>
</g></svg></div>
<div class="callbox" style="left:1075px;width:317px"><div></div></div>
<div class="ct" style="left:1090px;top:614px"><span class="kr">相较静脉埃万妥单抗</span> (66%)<span class="kr">，</span><br><span class="b gr" style="background-image:linear-gradient(90deg,#ff9a00,#f04a10 40%,#d81818 70%,#c00010)"><span class="k">皮下埃万妥单抗</span>IRR<span class="k">发生率降</span></span><br><span class="b gr" style="background-image:linear-gradient(90deg,#ff9a00,#f04a10 40%,#d81818 70%,#c00010)"><span class="k">低至</span>13%<span class="k">，且无</span>4<span style="display:inline-block;width:1em;text-align:center">~</span>5<span class="k">级</span></span></div>
</div>
</body></html>
